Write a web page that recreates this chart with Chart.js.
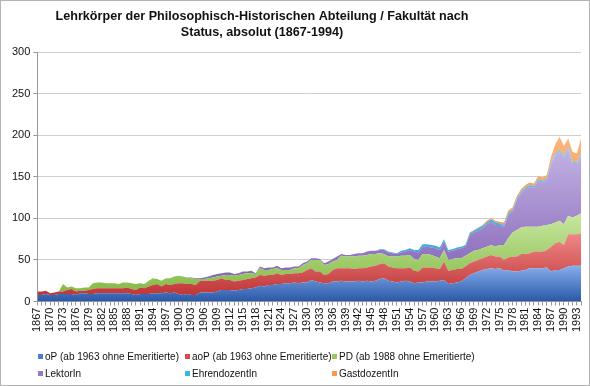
<!DOCTYPE html>
<html>
<head>
<meta charset="utf-8">
<script src="https://cdn.jsdelivr.net/npm/chart.js@4.4.0/dist/chart.umd.min.js"></script>
<style>
  html, body { margin: 0; padding: 0; background: #fff; }
</style>
</head>
<body>
<canvas id="areaChart" width="590" height="386"></canvas>
<script>
// categories: every year 1867..1994
var years = [];
for (var yr = 1867; yr <= 1994; yr++) years.push(String(yr));

// series (rows of ten years, starting 1867)
var oP = [
  8,8,9,8,8,9,9,9,9,8,
  10,10,9,9,10,10,10,10,10,10,
  10,10,9,8,9,9,9,10,10,10,
  11,10,11,9,8,9,8,8,11,11,
  11,11,12,14,14,14,13,14,15,15,
  16,17,19,18,20,20,21,21,22,22,
  23,22,23,23,26,24,23,22,22,24,
  24,25,24,24,24,25,24,25,24,25,
  27,28,25,24,23,24,25,24,22,23,
  23,24,24,24,25,26,21,22,23,24,
  28,32,34,36,38,39,40,39,40,37,
  38,36,36,37,38,40,40,40,40,41,
  36,38,38,40,42,43,43,43
];
var aoP = [
  4,4,4,2,3,3,3,5,6,4,
  3,3,5,6,6,6,6,6,6,6,
  6,7,6,6,8,7,9,10,11,8,
  10,10,10,13,14,12,13,12,14,14,
  14,14,14,14,12,12,11,11,11,12,
  12,12,13,13,12,12,13,11,11,11,
  11,12,12,15,14,12,13,10,11,14,
  16,15,16,16,15,15,16,16,18,18,
  18,18,17,17,17,16,15,17,15,13,
  18,17,17,16,14,22,16,16,16,15,
  14,14,14,14,14,15,16,15,14,13,
  15,18,18,20,19,18,20,20,20,21,
  30,32,34,28,39,38,38,39
];
var pd = [
  0,0,0,0,0,0,9,3,3,4,
  3,4,3,7,7,7,6,6,6,5,
  7,6,7,7,5,5,7,8,6,7,
  7,8,9,9,8,8,7,7,2,2,
  3,4,4,3,6,6,7,7,7,7,
  6,4,8,7,6,7,6,6,5,5,
  6,6,9,8,10,14,14,12,12,10,
  10,15,14,14,15,15,15,15,15,14,
  13,11,12,13,14,15,15,15,14,14,
  16,16,15,14,13,14,13,13,13,13,
  13,12,13,12,12,12,12,12,14,18,
  23,29,32,32,33,32,30,30,31,30,
  27,25,25,25,22,20,22,24
];
var lektor = [
  0,0,0,0,0,0,0,0,0,0,
  0,0,0,0,0,0,0,0,0,0,
  0,0,0,0,0,0,0,0,0,0,
  0,0,0,0,0,0,1,1,1,2,
  2,3,3,3,3,3,2,2,3,2,
  3,1,2,2,3,2,3,2,3,3,
  2,2,2,2,2,2,1,2,3,3,
  4,2,2,2,3,3,3,4,4,4,
  4,5,5,4,3,4,5,6,9,9,
  9,9,9,10,10,10,10,10,11,12,
  11,22,22,23,24,27,28,26,24,22,
  28,25,36,41,45,48,47,55,52,54,
  72,81,83,80,81,65,62,70
];
var ehren = [
  0,0,0,0,0,0,0,0,0,0,
  0,0,0,0,0,0,0,0,0,0,
  0,0,0,0,0,0,0,0,0,0,
  0,0,0,0,0,0,0,0,0,0,
  0,0,0,0,0,0,0,0,0,0,
  0,0,0,0,0,0,0,0,0,0,
  0,0,0,0,0,0,0,0,0,0,
  0,0,0,0,0,0,0,0,0,0,
  1,1,1,1,1,2,2,2,2,3,
  3,3,3,3,3,3,2,2,2,2,
  2,2,2,3,3,2,3,3,2,2,
  2,2,2,2,2,2,2,2,2,2,
  2,2,2,2,2,2,2,2
];
var gast = [
  0,0,0,0,0,0,0,0,0,0,
  0,0,0,0,0,0,0,0,0,0,
  0,0,0,0,0,0,0,0,0,0,
  0,0,0,0,0,0,0,0,0,0,
  0,0,0,0,0,0,0,0,0,0,
  0,0,0,0,0,0,0,0,0,0,
  0,0,0,0,0,0,0,0,0,0,
  0,0,0,0,0,0,0,0,0,0,
  0,0,0,0,0,0,0,0,0,0,
  0,0,0,0,0,0,0,0,0,0,
  0,1,1,1,1,2,1,2,2,3,
  3,3,3,3,3,3,3,4,4,4,
  7,11,16,12,10,12,11,18
];

var seriesNames = ['oP (ab 1963 ohne Emeritierte)', 'aoP (ab 1963 ohne Emeritierte)',
  'PD (ab 1988 ohne Emeritierte)', 'LektorIn', 'EhrendozentIn', 'GastdozentIn'];
var seriesData = [oP, aoP, pd, lektor, ehren, gast];
var yTicks = [0, 50, 100, 150, 200, 250, 300];

// [top colour, bottom colour, legend colour]
var palette = [
  ['#86aeec', '#2a58a8', '#4a7ecf'],
  ['#f08888', '#c03636', '#d84c4c'],
  ['#c9e7a0', '#84ba46', '#9acb5a'],
  ['#c2b2e3', '#7f5eb4', '#9a78c6'],
  ['#5ec9ee', '#2b9fd1', '#3cb4e4'],
  ['#fbb47c', '#f08a3a', '#f79a50']
];

// running totals, used for the gradient extents
var cumul = [];
seriesData.forEach(function(arr, s) {
  cumul.push(arr.map(function(v, i) { return v + (s > 0 ? cumul[s - 1][i] : 0); }));
});

function areaFill(s) {
  return function(context) {
    var chart = context.chart;
    var area = chart.chartArea;
    if (!area) return palette[s][2];
    var yScale = chart.scales.y;
    var top = Math.max.apply(null, cumul[s]);
    var base = s > 0 ? Math.min.apply(null, cumul[s - 1]) : 0;
    var g = chart.ctx.createLinearGradient(0, yScale.getPixelForValue(top), 0, yScale.getPixelForValue(base));
    g.addColorStop(0, palette[s][0]);
    g.addColorStop(1, palette[s][1]);
    return g;
  };
}

var datasets = seriesData.map(function(arr, s) {
  return {
    label: seriesNames[s],
    data: arr,
    fill: s === 0 ? 'origin' : '-1',
    backgroundColor: areaFill(s),
    borderWidth: 0,
    borderColor: 'rgba(0,0,0,0)',
    pointRadius: 0,
    tension: 0
  };
});

// title, legend and frame drawn at fixed spots like the original
var decor = {
  id: 'decor',
  beforeDraw: function(chart) {
    var ctx = chart.ctx;
    ctx.save();
    ctx.fillStyle = '#fff';
    ctx.fillRect(0, 0, chart.width, chart.height);
    ctx.restore();
  },
  afterDraw: function(chart) {
    var ctx = chart.ctx;
    ctx.save();
    ctx.strokeStyle = '#b4b4b4';
    ctx.lineWidth = 1;
    ctx.strokeRect(0.5, 0.5, chart.width - 1, chart.height - 1);

    ctx.fillStyle = '#111';
    ctx.textAlign = 'center';
    ctx.textBaseline = 'middle';
    ctx.font = 'bold 12.6px "Liberation Sans", Arial, sans-serif';
    ctx.fillText('Lehrkörper der Philosophisch-Historischen Abteilung / Fakultät nach', 262, 17);
    ctx.fillText('Status, absolut (1867-1994)', 262, 33);

    ctx.font = '10px "Liberation Sans", Arial, sans-serif';
    ctx.textAlign = 'left';
    var cols = [38, 185, 332];
    var rows = [357, 374];
    seriesNames.forEach(function(name, s) {
      var x = cols[s % 3], y = rows[Math.floor(s / 3)];
      ctx.fillStyle = palette[s][2];
      ctx.fillRect(x, y - 3, 5, 5);
      ctx.fillStyle = '#111';
      ctx.fillText(name, x + 7, y);
    });
    ctx.restore();
  }
};

var ctx = document.getElementById('areaChart').getContext('2d');
var chart = new Chart(ctx, {
  type: 'line',
  data: { labels: years, datasets: datasets },
  options: {
    responsive: false,
    animation: false,
    devicePixelRatio: 1,
    layout: { padding: { top: 52, right: 9, bottom: 52, left: 9 } },
    plugins: {
      legend: { display: false },
      title: { display: false },
      tooltip: { enabled: false }
    },
    elements: { line: { borderWidth: 0 } },
    scales: {
      x: {
        offset: false,
        afterFit: function(axis) {
          // no extra room for the rotated end labels
          axis.paddingLeft = 0;
          axis.paddingRight = 0;
        },
        grid: { drawOnChartArea: false, drawTicks: true, tickLength: 4, color: '#999' },
        border: { color: '#999' },
        ticks: {
          autoSkip: false,
          maxRotation: 90,
          minRotation: 90,
          padding: 2,
          color: '#111',
          font: { family: '"Liberation Sans", Arial, sans-serif', size: 11 },
          callback: function(val, i) { return i % 3 === 0 ? years[i] : ''; }
        }
      },
      y: {
        stacked: true,
        min: 0,
        max: 300,
        afterBuildTicks: function(axis) {
          axis.ticks = yTicks.map(function(v) { return { value: v }; });
        },
        grid: { color: '#cfcfcf', tickLength: 4, tickColor: '#999' },
        border: { color: '#999' },
        ticks: {
          padding: 3,
          color: '#111',
          font: { family: '"Liberation Sans", Arial, sans-serif', size: 11 }
        }
      }
    }
  },
  plugins: [decor]
});
</script>
</body>
</html>
